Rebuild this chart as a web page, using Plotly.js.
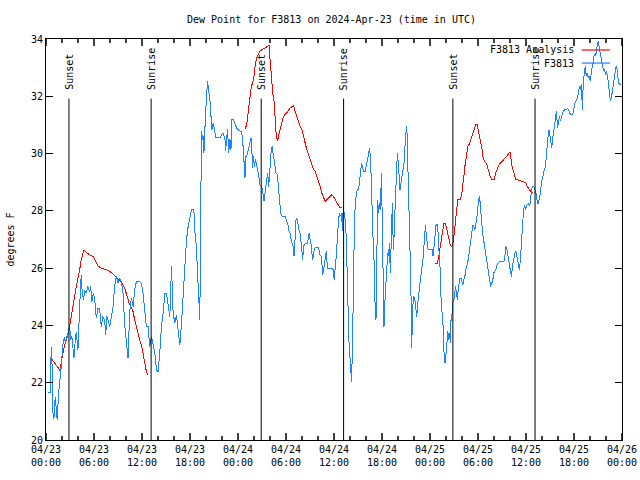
<!DOCTYPE html>
<html><head><meta charset="utf-8">
<script src="https://cdn.plot.ly/plotly-3.0.1.min.js"></script>
<style>html,body{margin:0;padding:0;background:#fff}#chart{width:640px;height:480px}
#chart .scatterlayer path.js-line{shape-rendering:crispEdges}</style>
</head><body><div id="chart"></div>
<script>
// hours since 2024-04-23 00:00 UTC
const blueHours = [0.23,0.52,0.56,0.73,0.81,0.98,1.15,1.27,1.40,1.57,1.69,1.90,2.11,2.32,2.40,2.53,2.74,2.95,3.07,3.24,3.36,3.49,3.66,3.78,3.99,4.11,4.28,4.41,4.53,4.70,4.82,5.03,5.24,5.45,5.58,5.74,5.91,6.08,6.29,6.50,6.70,6.91,7.12,7.33,7.46,7.62,7.96,8.17,8.38,8.58,8.79,9.00,9.21,9.42,9.63,9.84,10.05,10.26,10.46,10.67,10.88,11.09,11.30,11.72,11.93,12.14,12.34,12.55,12.76,12.97,13.18,13.39,13.60,13.81,14.01,14.22,14.43,14.64,14.85,15.06,15.27,15.48,15.69,15.81,15.89,16.10,16.31,16.52,16.73,16.94,17.15,17.36,17.56,17.77,17.98,18.19,
18.31,18.48,18.61,18.82,18.90,19.07,19.15,19.23,19.32,19.44,19.57,19.65,19.73,19.82,19.90,20.07,20.19,20.32,20.49,20.61,20.74,20.90,21.07,21.24,21.53,21.74,21.95,22.16,22.37,22.45,22.57,22.70,22.83,22.99,23.12,23.24,23.41,23.62,23.83,24.25,24.45,24.58,24.66,24.79,24.87,25.00,25.16,25.33,25.50,25.62,25.71,25.83,25.92,26.04,26.17,26.33,26.54,26.75,26.96,27.09,27.25,27.42,27.59,27.71,27.84,28.01,28.13,28.26,28.42,28.63,28.76,28.92,29.05,29.17,29.34,29.51,29.68,29.88,30.09,30.26,30.39,30.51,30.64,30.76,30.89,31.01,31.10,31.18,31.26,31.43,31.60,31.76,31.89,32.02,32.10,32.18,32.39,32.68,32.89,33.02,33.18,33.27,33.35,33.44,33.56,33.85,34.10,34.19,34.40,34.52,34.60,34.77,34.90,35.02,35.11,35.23,35.44,35.73,35.94,36.02,
36.28,36.40,36.57,36.69,36.82,36.94,37.07,37.15,37.28,37.40,37.53,37.65,37.74,37.86,37.99,38.11,38.20,38.32,38.45,38.57,38.74,38.91,39.07,39.20,39.32,39.45,39.58,39.70,39.91,40.03,40.20,40.33,40.45,40.58,40.66,40.79,40.91,41.04,41.12,41.25,41.33,41.45,41.58,41.71,41.83,41.91,42.00,42.08,42.17,42.25,42.33,42.46,42.58,42.71,42.83,42.92,43.04,43.17,43.29,43.38,43.46,43.54,43.67,43.79,43.92,44.04,44.17,44.25,44.38,44.50,44.63,44.75,44.84,44.96,45.05,45.13,45.26,45.38,45.51,45.63,45.72,45.80,45.92,46.09,46.22,46.34,46.47,46.59,46.72,46.84,46.97,47.09,47.22,47.34,47.43,47.51,47.64,47.76,48.05,48.26,48.39,48.51,48.64,48.76,48.89,49.02,49.14,49.27,49.39,49.52,49.64,49.77,49.89,49.98,50.10,50.23,50.35,50.48,50.56,50.64,50.77,50.85,50.98,51.06,51.19,51.31,51.44,51.52,51.65,51.73,51.86,51.98,52.11,52.23,52.36,52.48,52.61,52.73,52.86,52.98,53.11,53.23,53.36,53.48,53.61,
53.83,53.95,54.08,54.20,54.33,54.45,54.58,54.70,54.83,54.95,55.08,55.20,55.33,55.45,55.58,55.71,55.83,55.96,56.08,56.21,56.33,56.46,56.71,56.96,57.21,57.33,57.46,57.58,57.71,57.84,57.96,58.09,58.21,58.29,58.42,58.55,58.67,58.80,58.92,59.05,59.17,59.30,59.42,59.55,59.67,59.80,59.92,60.05,60.17,60.30,60.43,60.55,60.68,60.80,60.93,61.05,61.18,61.30,61.43,61.55,61.68,61.80,61.93,62.05,62.18,62.30,62.43,62.56,62.68,62.81,62.89,63.01,63.14,63.22,63.31,63.43,63.56,63.68,63.81,63.93,64.06,64.18,64.31,64.44,64.56,64.81,65.06,65.19,65.31,65.44,65.56,65.81,65.94,66.06,66.19,66.31,66.44,66.57,66.69,66.82,66.90,66.98,67.07,67.15,67.28,67.40,67.53,67.65,67.78,67.90,68.03,68.15,68.28,68.40,68.53,68.65,68.78,68.90,69.03,69.16,69.28,69.41,69.49,69.57,69.70,69.82,69.95,70.07,70.20,70.32,70.45,70.58,70.70,70.83,70.95,71.08,71.20,71.33,71.45,71.58,71.70,71.83];
const blueDew = [21.65,21.65,22.68,23.26,21.10,20.72,21.51,21.05,20.69,21.63,22.09,22.56,23.32,23.61,23.38,23.49,23.73,24.02,23.49,23.61,23.14,22.85,23.49,23.78,23.14,24.19,25.12,25.77,25.12,24.89,25.24,25.12,25.36,25.18,25.36,24.83,25.12,24.95,24.25,24.60,24.60,23.96,24.31,24.19,23.67,24.31,23.96,24.31,24.66,25.36,25.71,25.47,25.65,25.53,25.12,24.02,23.38,22.85,24.48,24.95,24.66,25.24,25.53,25.53,25.47,25.12,24.54,23.96,23.96,23.26,23.61,23.26,23.03,22.44,22.39,23.03,23.96,24.43,25.12,25.12,24.72,24.31,26.06,25.36,24.43,24.08,24.37,23.84,23.32,24.08,25.24,26.29,26.99,27.46,27.80,28.04,
28.06,28.04,27.28,26.70,26.06,25.30,24.57,24.19,27.46,30.78,30.49,30.60,30.02,30.31,31.19,31.89,32.53,32.24,31.89,31.36,30.84,31.07,30.84,30.55,30.55,30.55,30.66,30.72,30.49,30.08,30.49,30.84,30.02,30.49,30.14,31.19,31.19,31.01,30.89,30.78,30.78,30.49,29.90,29.55,29.15,29.90,29.96,30.14,30.37,30.55,30.25,29.50,29.90,29.55,29.79,29.61,29.32,28.91,28.85,28.68,28.33,28.74,29.20,29.32,28.85,29.73,30.02,30.25,29.96,29.67,29.32,29.26,28.85,28.50,27.92,27.81,27.81,27.81,27.63,27.51,27.28,27.22,26.99,26.87,26.76,26.41,26.76,27.22,27.75,27.69,27.34,27.22,26.87,26.52,26.29,26.76,26.85,26.87,27.22,26.99,26.76,26.41,26.29,26.52,26.70,26.73,26.70,26.47,26.41,26.06,25.77,26.06,26.41,26.58,26.23,26.00,26.00,26.00,25.94,25.59,
26.41,27.11,27.69,27.92,27.81,27.92,27.28,28.16,27.92,27.69,27.11,25.36,23.96,23.49,22.91,22.33,22.04,23.43,26.41,27.81,28.45,28.74,28.74,29.15,29.44,29.67,29.50,29.38,29.38,29.55,29.73,29.90,30.19,29.73,28.74,27.86,26.82,26.06,24.83,24.19,25.83,28.39,27.92,28.27,28.04,29.32,28.16,26.29,24.66,23.96,24.66,25.24,25.83,26.52,26.41,26.87,25.83,27.69,28.27,27.11,26.64,27.46,28.39,29.20,30.02,29.67,29.20,28.74,28.97,29.20,29.38,29.67,30.14,30.60,30.95,30.72,29.55,28.39,26.52,25.01,23.20,24.31,25.01,24.95,24.54,24.31,24.78,25.12,25.53,25.83,26.00,26.17,26.64,27.22,27.51,27.22,26.76,26.64,26.64,26.64,26.41,26.76,27.22,27.51,27.51,27.22,26.52,25.94,24.89,24.31,23.96,22.91,22.68,22.91,23.49,23.79,23.49,23.73,23.38,24.31,24.43,24.78,24.89,25.01,25.36,25.12,24.89,25.24,25.47,25.65,25.65,25.53,25.42,25.59,25.71,25.94,26.06,26.23,26.46,26.76,27.05,27.34,27.51,27.46,27.34,
27.69,28.16,28.39,28.50,28.04,27.46,27.22,26.99,26.76,26.52,26.35,26.17,25.94,25.59,25.36,25.48,25.53,25.83,25.88,25.94,26.06,26.17,26.23,26.23,26.23,26.29,26.76,26.70,26.52,26.29,26.06,25.83,25.71,26.06,26.29,26.52,26.58,26.52,26.29,26.17,25.94,26.29,26.93,27.51,27.92,28.21,28.04,28.16,28.21,28.27,28.16,28.27,28.74,28.85,28.85,28.80,28.68,28.56,28.27,28.27,28.45,28.62,28.97,29.15,29.26,29.44,29.55,30.02,30.37,30.78,30.81,30.60,30.49,30.20,30.49,30.72,30.89,31.24,31.48,30.89,31.13,31.30,31.13,31.30,31.42,31.53,31.53,31.59,31.53,31.42,31.36,31.36,31.48,31.71,31.83,31.89,31.94,32.12,32.35,32.24,32.41,32.00,31.53,32.47,32.70,33.05,32.70,32.82,32.64,32.70,32.53,32.82,33.05,33.17,33.46,33.40,33.52,33.75,33.92,33.69,33.52,33.40,33.28,33.11,32.88,32.93,32.76,32.88,32.70,32.47,32.00,31.83,32.00,32.18,32.47,32.70,32.99,33.05,32.70,32.47,32.41,32.41];

// analysis series (null = gap during daytime)
const redHours = [0.73,1.07,1.48,1.78,1.90,2.11,2.32,2.53,2.74,2.95,3.07,3.24,3.40,3.57,3.74,3.91,4.07,4.24,4.41,4.62,4.74,4.91,5.16,5.45,5.87,6.08,6.29,6.50,6.91,7.33,7.75,8.17,8.58,9.00,9.42,9.84,10.05,10.26,10.46,10.67,10.88,11.09,11.30,11.51,11.72,11.93,12.14,12.34,12.55,12.72,
null,
24.87,25.08,25.21,25.37,25.50,25.67,25.83,26.00,26.17,26.33,26.54,26.75,27.17,27.67,27.88,28.01,28.17,28.34,28.51,28.63,28.76,28.92,29.09,29.26,29.47,29.68,30.09,30.51,30.93,31.14,31.35,31.56,31.76,31.97,32.18,32.39,32.60,32.81,33.02,33.23,33.44,33.64,33.85,34.06,34.27,34.48,34.69,34.90,35.11,35.31,35.52,35.73,35.94,36.15,36.36,36.57,36.74,37.05,
null,
48.68,48.93,49.10,49.22,49.35,49.47,49.60,49.73,49.93,50.06,50.18,50.35,50.52,50.69,50.85,50.98,51.10,51.23,51.35,51.48,51.73,51.86,51.98,52.11,52.23,52.36,52.48,52.61,52.73,52.86,52.98,53.11,53.23,53.36,53.48,53.61,53.74,53.90,54.03,54.20,54.28,54.45,54.62,54.79,55.04,55.20,55.37,55.58,55.79,56.00,56.21,56.42,56.62,56.83,57.04,57.46,57.67,57.88,58.00,58.13,58.29,58.50,58.71,59.13,59.55,59.97,60.17,60.38,60.59,60.88];
const redDew = [22.82,22.68,22.50,22.42,22.73,23.03,23.32,23.49,23.67,23.96,24.19,24.43,24.77,25.12,25.30,25.53,25.71,26.00,26.29,26.58,26.64,26.58,26.52,26.46,26.41,26.29,26.17,26.08,26.00,25.96,25.92,25.85,25.73,25.61,25.50,25.30,25.12,24.91,24.72,24.63,24.48,24.19,23.96,23.67,23.49,23.32,23.03,22.68,22.39,22.29,
null,
30.84,31.01,31.30,31.65,32.00,32.35,32.47,32.70,33.11,33.34,33.46,33.58,33.66,33.73,33.77,33.28,32.70,32.12,31.83,31.30,30.72,30.43,30.60,30.84,31.07,31.30,31.42,31.59,31.68,31.48,31.30,31.13,30.95,30.86,30.66,30.37,30.14,29.96,29.79,29.61,29.44,29.38,29.20,29.09,28.85,28.62,28.45,28.33,28.39,28.45,28.50,28.56,28.50,28.39,28.27,28.16,28.10,28.10,
null,
26.17,26.17,26.41,26.64,26.99,27.22,27.46,27.57,27.57,27.40,27.22,26.99,26.82,26.76,26.82,27.11,27.46,27.81,28.16,28.39,28.39,28.45,28.62,28.85,29.20,29.55,29.85,30.08,30.25,30.31,30.37,30.49,30.60,30.72,30.78,30.95,31.01,31.01,30.84,30.60,30.49,30.25,29.90,29.73,29.67,29.50,29.32,29.15,29.09,29.09,29.32,29.50,29.61,29.67,29.73,29.85,29.93,30.02,30.04,29.79,29.50,29.32,29.09,29.07,29.04,28.99,28.85,28.74,28.68,28.64];

const tickHours = [0,6,12,18,24,30,36,42,48,54,60,66,72];
const minorTickHours = [2,4,8,10,14,16,20,22,26,28,32,34,38,40,44,46,50,52,56,58,62,64,68,70];
const tickLabels = ['04/23<br>00:00','04/23<br>06:00','04/23<br>12:00','04/23<br>18:00','04/24<br>00:00','04/24<br>06:00','04/24<br>12:00','04/24<br>18:00','04/25<br>00:00','04/25<br>06:00','04/25<br>12:00','04/25<br>18:00','04/26<br>00:00'];
const sunEventHours = [2.87,13.14,26.90,37.20,50.86,61.13];
const sunEventLabels = ['Sunset','Sunrise','Sunset','Sunrise','Sunset','Sunrise'];
const seriesNames = ['F3813 Analysis','F3813'];
const seriesColors = ['#ff0000','#1a85ff'];
const chartTitle = 'Dew Point for F3813 on 2024-Apr-23 (time in UTC)';
const yTitle = 'degrees F';

const FONT = 'DejaVu Sans Mono, Liberation Mono, monospace';
const Y_MIN = 20, Y_MAX = 34;

const traces = [
  {x: redHours, y: redDew, type:'scatter', mode:'lines', name: seriesNames[0], connectgaps:false,
   line:{color: seriesColors[0], width:1}},
  {x: blueHours, y: blueDew, type:'scatter', mode:'lines', name: seriesNames[1],
   line:{color: seriesColors[1], width:1}}
];

const shapes = [];
const annotations = [];

// x-axis tick marks inside the frame, bottom and top (major every 6 h, minor every 2 h)
const MAJ = 0.245, MIN = 0.14; // ~7 px and ~4 px in y units
tickHours.forEach(h => {
  shapes.push({type:'line', xref:'x', yref:'y', x0:h, x1:h, y0:Y_MIN, y1:Y_MIN + MAJ, line:{color:'#000', width:1.5}});
  shapes.push({type:'line', xref:'x', yref:'y', x0:h, x1:h, y0:Y_MAX, y1:Y_MAX - MAJ, line:{color:'#000', width:1.5}});
});
minorTickHours.forEach(h => {
  shapes.push({type:'line', xref:'x', yref:'y', x0:h, x1:h, y0:Y_MIN, y1:Y_MIN + MIN, line:{color:'#000', width:1.5}});
  shapes.push({type:'line', xref:'x', yref:'y', x0:h, x1:h, y0:Y_MAX, y1:Y_MAX - MIN, line:{color:'#000', width:1.5}});
});

sunEventHours.forEach((h, i) => {
  shapes.push({type:'line', xref:'x', yref:'y', x0:h, x1:h, y0:Y_MIN, y1:31.92, line:{color:'#000', width:1}});
  annotations.push({xref:'x', yref:'y', x:h + 0.1, y:32.15, text: sunEventLabels[i], textangle:-90,
    xanchor:'center', yanchor:'bottom', showarrow:false, font:{family:FONT, size:10, color:'#000'}});
});

// gnuplot-style legend (text left of line sample)
const legY = [0.9726, 0.940];
seriesNames.forEach((n, i) => {
  annotations.push({xref:'paper', yref:'paper', x:0.921, y:legY[i], text:n, xanchor:'right', yanchor:'middle',
    showarrow:false, font:{family:FONT, size:10, color:'#000'}});
  shapes.push({type:'line', xref:'paper', yref:'paper', x0:0.930, x1:0.979, y0:legY[i], y1:legY[i],
    line:{color: seriesColors[i], width:1.2}});
});

const layout = {
  width:640, height:480,
  margin:{l:46, r:18, t:39, b:40, pad:0},
  paper_bgcolor:'#fff', plot_bgcolor:'#fff',
  font:{family:FONT, size:10, color:'#000'},
  title:{text: chartTitle, x: 331.5/640, xref:'container', xanchor:'center', y: 1 - 19/480, yref:'container', yanchor:'middle',
    font:{family:FONT, size:10, color:'#000'}},
  showlegend:false,
  xaxis:{range:[0,72], tickmode:'array', tickvals: tickHours, ticktext: tickLabels, ticks:'',
    showline:true, linecolor:'#000', linewidth:1, mirror:true,
    showgrid:false, zeroline:false,
    tickfont:{family:FONT, size:10, color:'#000'}},
  yaxis:{range:[Y_MIN,Y_MAX], tickmode:'linear', tick0:20, dtick:2, ticks:'inside', ticklen:7, tickcolor:'#000', tickwidth:1,
    showline:true, linecolor:'#000', linewidth:1, mirror:'ticks', showgrid:false, zeroline:false,
    tickfont:{family:FONT, size:10, color:'#000'},
    title:{text: yTitle, standoff:14, font:{family:FONT, size:10, color:'#000'}}},
  shapes: shapes,
  annotations: annotations
};

Plotly.newPlot('chart', traces, layout, {displayModeBar:false, staticPlot:true});
</script>
</body></html>
